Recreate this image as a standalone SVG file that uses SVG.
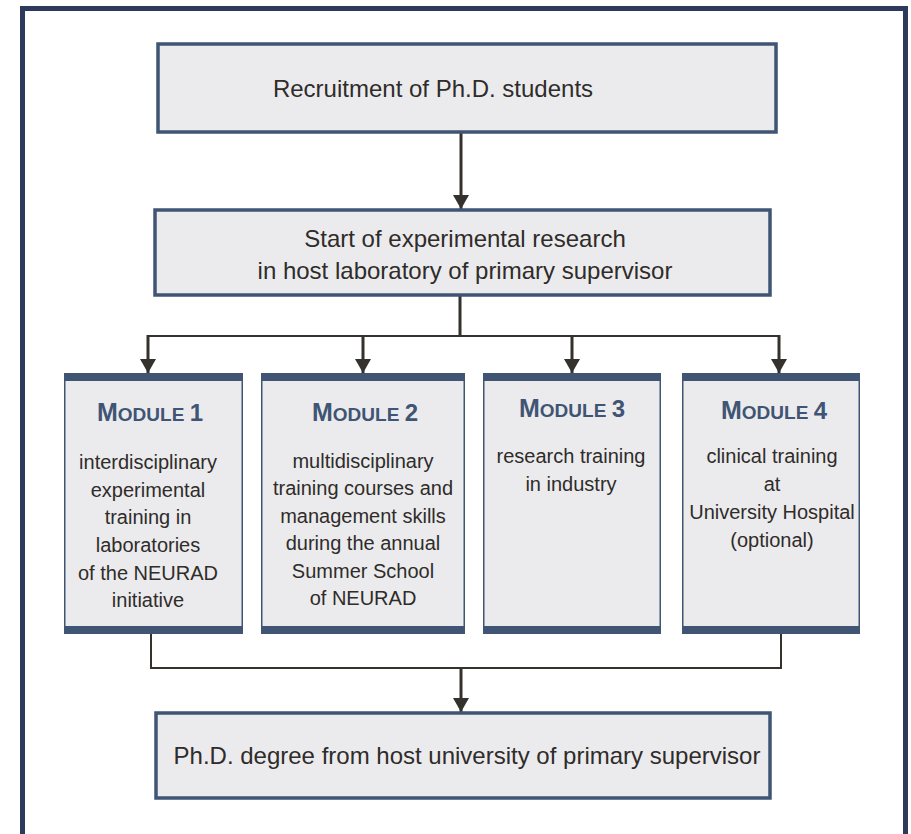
<svg xmlns="http://www.w3.org/2000/svg" width="911" height="834" viewBox="0 0 911 834">
<defs>
<style>
.box{fill:#ebebee;stroke:#3f5573;stroke-width:3.5}
.mod{fill:#ebebee;stroke:#3f5573;stroke-width:1.5}
.bar{fill:#3f5573}
.t{font-family:"Liberation Sans",Arial,sans-serif;fill:#2f2c29;text-anchor:middle}
.big{font-size:24px}
.body{font-size:20px}
.mt{font-family:"Liberation Sans",Arial,sans-serif;font-weight:bold;fill:#3f5573;text-anchor:middle}
.ln{fill:none;stroke:#35312c;stroke-width:3}
.thin{fill:none;stroke:#35312c;stroke-width:2}
</style>
<marker id="ah" markerWidth="14" markerHeight="16" viewBox="0 0 14 16" refX="14" refY="8" orient="auto" markerUnits="userSpaceOnUse">
<path d="M0,0 L14,8 L0,16 Z" fill="#35312c"/>
</marker>
</defs>
<rect x="22.5" y="8.5" width="883" height="840" fill="#ffffff" stroke="#2d3a5c" stroke-width="5"/>
<g id="connectors">
<line class="ln" x1="461" y1="133" x2="461" y2="209" marker-end="url(#ah)"/>
<line class="ln" x1="460" y1="296" x2="460" y2="336"/>
<line class="thin" x1="147" y1="336" x2="780" y2="336"/>
<line class="ln" x1="148" y1="335" x2="148" y2="373" marker-end="url(#ah)"/>
<line class="ln" x1="363" y1="335" x2="363" y2="373" marker-end="url(#ah)"/>
<line class="ln" x1="572" y1="335" x2="572" y2="373" marker-end="url(#ah)"/>
<line class="ln" x1="779" y1="335" x2="779" y2="373" marker-end="url(#ah)"/>
<polyline class="thin" points="151,634 151,668 781,668 781,634"/>
<line class="ln" x1="461" y1="668" x2="461" y2="712" marker-end="url(#ah)"/>
</g>
<g id="recruitment">
<rect class="box" x="158" y="44" width="618" height="88"/>
<text class="t big" x="433" y="97">Recruitment of Ph.D. students</text>
</g>
<g id="start">
<rect class="box" x="155" y="210" width="615" height="85"/>
<text class="t big" x="465" y="247">Start of experimental research</text>
<text class="t big" x="465" y="279">in host laboratory of primary supervisor</text>
</g>
<g id="module1">
<rect class="mod" x="64.75" y="374" width="177.5" height="259"/>
<rect class="bar" x="64" y="373" width="179" height="8"/>
<rect class="bar" x="64" y="626" width="179" height="8"/>
<text class="mt" x="150" y="421"><tspan font-size="25">M</tspan><tspan font-size="19">ODULE </tspan><tspan font-size="24">1</tspan></text>
<text class="t body" x="148" y="469">interdisciplinary</text>
<text class="t body" x="148" y="497">experimental</text>
<text class="t body" x="148" y="524">training in</text>
<text class="t body" x="148" y="552">laboratories</text>
<text class="t body" x="148" y="580">of the NEURAD</text>
<text class="t body" x="148" y="607">initiative</text>
</g>
<g id="module2">
<rect class="mod" x="261.75" y="374" width="202.5" height="259"/>
<rect class="bar" x="261" y="373" width="204" height="8"/>
<rect class="bar" x="261" y="626" width="204" height="8"/>
<text class="mt" x="365" y="421"><tspan font-size="25">M</tspan><tspan font-size="19">ODULE </tspan><tspan font-size="24">2</tspan></text>
<text class="t body" x="363" y="468">multidisciplinary</text>
<text class="t body" x="363" y="495">training courses and</text>
<text class="t body" x="363" y="523">management skills</text>
<text class="t body" x="363" y="550">during the annual</text>
<text class="t body" x="363" y="578">Summer School</text>
<text class="t body" x="363" y="605">of NEURAD</text>
</g>
<g id="module3">
<rect class="mod" x="483.75" y="374" width="176.5" height="259"/>
<rect class="bar" x="483" y="373" width="178" height="8"/>
<rect class="bar" x="483" y="626" width="178" height="8"/>
<text class="mt" x="572" y="417"><tspan font-size="25">M</tspan><tspan font-size="19">ODULE </tspan><tspan font-size="24">3</tspan></text>
<text class="t body" x="571" y="463">research training</text>
<text class="t body" x="571" y="491">in industry</text>
</g>
<g id="module4">
<rect class="mod" x="682.75" y="374" width="176.5" height="259"/>
<rect class="bar" x="682" y="373" width="178" height="8"/>
<rect class="bar" x="682" y="626" width="178" height="8"/>
<text class="mt" x="774" y="419"><tspan font-size="25">M</tspan><tspan font-size="19">ODULE </tspan><tspan font-size="24">4</tspan></text>
<text class="t body" x="772" y="463">clinical training</text>
<text class="t body" x="772" y="491">at</text>
<text class="t body" x="772" y="519">University Hospital</text>
<text class="t body" x="772" y="547">(optional)</text>
</g>
<g id="degree">
<rect class="box" x="156" y="713" width="614" height="85"/>
<text class="t big" x="467" y="764">Ph.D. degree from host university of primary supervisor</text>
</g>
</svg>
